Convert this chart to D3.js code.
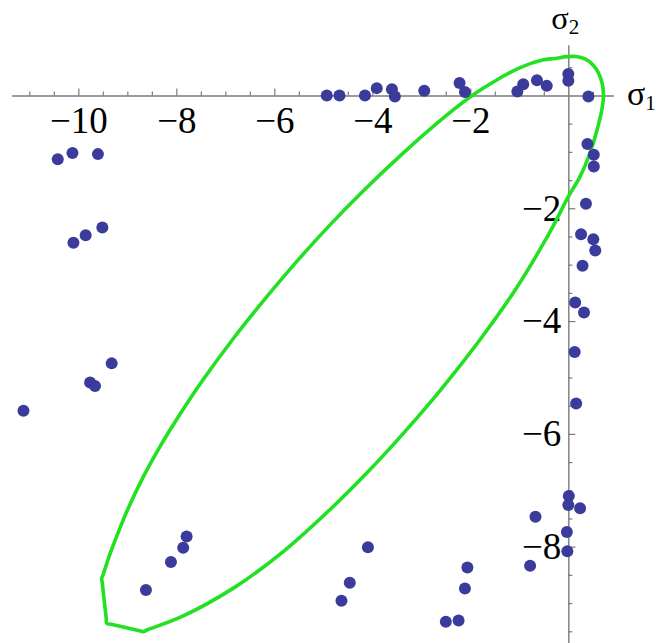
<!DOCTYPE html>
<html>
<head>
<meta charset="utf-8">
<script src="https://cdn.jsdelivr.net/npm/d3@7/dist/d3.min.js"></script>
<style>
  html, body { margin: 0; padding: 0; background: #fff; }
  svg { display: block; }
  .tick-label { font-family: "Liberation Serif", "Times New Roman", serif; font-size: 37px; fill: #000; }
  .axis-title { font-family: "Liberation Serif", "Times New Roman", serif; fill: #000; }
</style>
</head>
<body>
<svg id="chart" width="656" height="643"></svg>
<script>
// Principal stress pairs (sigma1, sigma2)
const sigma1Values = [
  -4.93, -4.67, -4.15, -3.91, -3.60, -3.54, -2.94, -2.22, -2.11, -1.04, -0.92, -0.64, -0.44, 0.00, 0.00, 0.41,
  0.39, 0.52, 0.52, 0.36, 0.26, 0.51, 0.55, 0.29, 0.14, 0.32, 0.13, 0.16,
  0.01, 0.00, 0.24, -0.67, -0.03, -0.02, -0.78,
  -4.09, -4.46, -4.63, -2.06, -2.11, -2.50, -2.24,
  -7.79, -7.86, -8.11, -8.62,
  -11.12, -9.32, -9.76, -9.66, -10.42, -10.12, -9.60, -10.10, -9.85, -9.51
];
const sigma2Values = [
  0.00, 0.00, 0.00, 0.13, 0.11, -0.02, 0.085, 0.22, 0.06, 0.07, 0.20, 0.27, 0.17, 0.38, 0.26, -0.02,
  -0.86, -1.05, -1.26, -1.92, -2.46, -2.55, -2.75, -3.02, -3.67, -3.85, -4.55, -5.46,
  -7.10, -7.26, -7.32, -7.47, -7.74, -8.08, -8.34,
  -8.01, -8.64, -8.96, -8.37, -8.74, -9.33, -9.31,
  -7.82, -8.02, -8.27, -8.77,
  -5.59, -4.75, -5.09, -5.15, -1.13, -1.02, -1.04, -2.61, -2.48, -2.34
];

// Failure envelope outline (sigma1, sigma2), traced clockwise from the top
const envelopeS1 = [
  -0.033, 0.157, 0.341, 0.504, 0.616, 0.688, 0.714, 0.708, 0.667, 0.586, 0.443, 0.239, 0.000,
  -0.234, -0.484, -1.071, -1.747, -2.371, -2.765, -3.431, -4.085, -4.819, -5.787, -6.819, -7.893,
  -8.598, -8.673, -8.748, -9.330, -9.420, -9.432, -9.510, -9.522, -9.497,
  -9.368, -9.161, -8.991, -8.667, -8.334, -7.864, -7.484, -6.832, -6.182, -5.478, -4.849, -4.207,
  -3.444, -2.696, -2.006, -1.461, -0.958, -0.527, -0.271
];
const envelopeS2 = [
  0.688, 0.691, 0.647, 0.541, 0.399, 0.222, 0.062, -0.115, -0.328, -0.612, -1.020, -1.440, -1.794,
  -2.189, -2.588, -3.431, -4.265, -4.969, -5.389, -6.054, -6.669, -7.305, -8.064, -8.726, -9.242,
  -9.477, -9.507, -9.492, -9.376, -9.358, -9.262, -8.656, -8.560, -8.503,
  -8.162, -7.692, -7.337, -6.750, -6.226, -5.569, -5.076, -4.305, -3.599, -2.880, -2.281, -1.711,
  -1.081, -0.504, -0.027, 0.275, 0.504, 0.629, 0.656
];

// Tick positions and labels
const xMajorTicks = [-10, -8, -6, -4, -2];
const xTickLabels = ["\u221210", "\u22128", "\u22126", "\u22124", "\u22122"];
const xMinorTicks = [-11, -10.5, -9.5, -9, -8.5, -7.5, -7, -6.5, -5.5, -5, -4.5, -3.5, -3, -2.5, -1.5, -1, -0.5, 0.5];
const yMajorTicks = [-2, -4, -6, -8];
const yTickLabels = ["\u22122", "\u22124", "\u22126", "\u22128"];
const yMinorTicks = [0.5, -0.5, -1, -1.5, -2.5, -3, -3.5, -4.5, -5, -5.5, -6.5, -7, -7.5, -8.5, -9, -9.5];

const svg = d3.select("#chart");

const x = d3.scaleLinear().domain([-11.36, 0.92]).range([11.7, 613.4]);
const y = d3.scaleLinear().domain([0.9, -9.8]).range([44.7, 648.2]);

const axisColor = "#7a7a7a";

// Horizontal axis through sigma2 = 0
const xAxisG = svg.append("g").attr("transform", `translate(0,${y(0)})`);
xAxisG.call(
  d3.axisBottom(x)
    .tickValues(xMajorTicks)
    .tickFormat((d, i) => xTickLabels[i])
    .tickSizeInner(-7)
    .tickSizeOuter(0)
    .tickPadding(11.5)
);
xAxisG.append("g").call(
  d3.axisBottom(x).tickValues(xMinorTicks).tickFormat("").tickSizeInner(-4).tickSizeOuter(0)
).select(".domain").remove();

// Vertical axis through sigma1 = 0
const yAxisG = svg.append("g").attr("transform", `translate(${x(0)},0)`);
yAxisG.call(
  d3.axisLeft(y)
    .tickValues(yMajorTicks)
    .tickFormat((d, i) => yTickLabels[i])
    .tickSizeInner(-7)
    .tickSizeOuter(0)
    .tickPadding(7)
);
yAxisG.append("g").call(
  d3.axisLeft(y).tickValues(yMinorTicks).tickFormat("").tickSizeInner(-4).tickSizeOuter(0)
).select(".domain").remove();

svg.selectAll(".domain").attr("stroke", axisColor).attr("stroke-width", 1.4);
svg.selectAll(".tick line").attr("stroke", axisColor).attr("stroke-width", 1.2);
svg.selectAll(".tick text")
  .attr("class", "tick-label")
  .attr("font-family", null)
  .attr("font-size", null);

// Axis titles
const t2 = svg.append("text").attr("class", "axis-title")
  .attr("x", x(0) - 17).attr("y", 29).attr("font-size", 32.5);
t2.append("tspan").text("\u03C3");
t2.append("tspan").attr("dy", 5).attr("font-size", 21).text("2");

const t1 = svg.append("text").attr("class", "axis-title")
  .attr("x", 627).attr("y", 105).attr("font-size", 34);
t1.append("tspan").text("\u03C3");
t1.append("tspan").attr("dy", 5).attr("font-size", 21).text("1");

// Envelope outline
const envelope = envelopeS1.map((s, i) => [s, envelopeS2[i]]);
svg.append("path")
  .datum(envelope)
  .attr("fill", "none")
  .attr("stroke", "#22e122")
  .attr("stroke-width", 3.6)
  .attr("stroke-linejoin", "round")
  .attr("d", d3.line().x(d => x(d[0])).y(d => y(d[1])).curve(d3.curveCatmullRomClosed.alpha(0.5)));

// Stress points
const points = sigma1Values.map((s, i) => ({ s1: s, s2: sigma2Values[i] }));
svg.append("g")
  .selectAll("circle")
  .data(points)
  .join("circle")
  .attr("cx", d => x(d.s1))
  .attr("cy", d => y(d.s2))
  .attr("r", 6)
  .attr("fill", "#3b3b9b");
</script>
</body>
</html>
